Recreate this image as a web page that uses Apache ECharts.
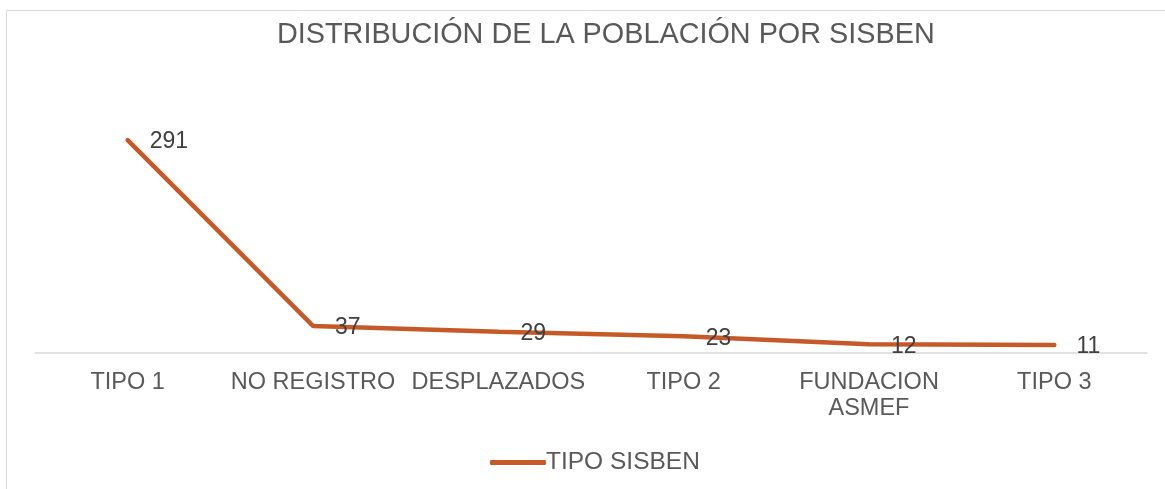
<!DOCTYPE html>
<html>
<head>
<meta charset="utf-8">
<script src="https://cdn.jsdelivr.net/npm/echarts@6/dist/echarts.min.js"></script>
<style>
  html, body { margin: 0; padding: 0; background: #fff; }
  #chart { width: 1165px; height: 489px; }
</style>
</head>
<body>
<div id="chart"></div>
<script>
  // datos
  var categorias = ["TIPO 1", "NO REGISTRO", "DESPLAZADOS", "TIPO 2", "FUNDACION\nASMEF", "TIPO 3"];
  var valores = [291, 37, 29, 23, 12, 11];
  var serieNombre = "TIPO SISBEN";
  var titulo = "DISTRIBUCIÓN DE LA POBLACIÓN POR SISBEN";

  var color = "#C55A28";
  var gris = "#595959";

  var myChart = echarts.init(document.getElementById("chart"));
  var option = {
    animation: false,
    textStyle: { fontFamily: "Liberation Sans, Arial, sans-serif" },
    graphic: [{
      type: "rect",
      shape: { x: 6.5, y: 10.5, width: 1170, height: 490 },
      style: { fill: "none", stroke: "#D9D9D9", lineWidth: 1 },
      silent: true
    }],
    title: {
      text: titulo,
      left: 272,
      top: 16,
      textStyle: { color: gris, fontSize: 28.8, fontWeight: "normal" }
    },
    legend: {
      bottom: 9,
      left: 485,
      itemWidth: 56,
      itemHeight: 5,
      itemGap: 0,
      icon: "roundRect",
      textStyle: { color: gris, fontSize: 24.5, padding: [0, 0, 0, -5] },
      data: [{ name: serieNombre, itemStyle: { color: color } }]
    },
    grid: { left: 35, right: 18, top: 97, bottom: 136 },
    xAxis: {
      type: "category",
      data: categorias,
      boundaryGap: true,
      axisLine: { lineStyle: { color: "#D9D9D9", width: 1.5 } },
      axisTick: { show: false },
      axisLabel: { color: gris, fontSize: 23.5, margin: 17, lineHeight: 26, interval: 0 }
    },
    yAxis: {
      type: "value",
      min: 0,
      max: 350,
      show: false,
      splitLine: { show: false }
    },
    series: [{
      name: serieNombre,
      type: "line",
      data: valores,
      symbol: "circle",
      symbolSize: 0.1,
      lineStyle: { color: color, width: 4.5, cap: "round" },
      itemStyle: { color: color },
      label: {
        show: true,
        position: "right",
        distance: 22,
        offset: [0, 2],
        color: "#404040",
        fontSize: 23
      }
    }]
  };
  myChart.setOption(option);
</script>
</body>
</html>
